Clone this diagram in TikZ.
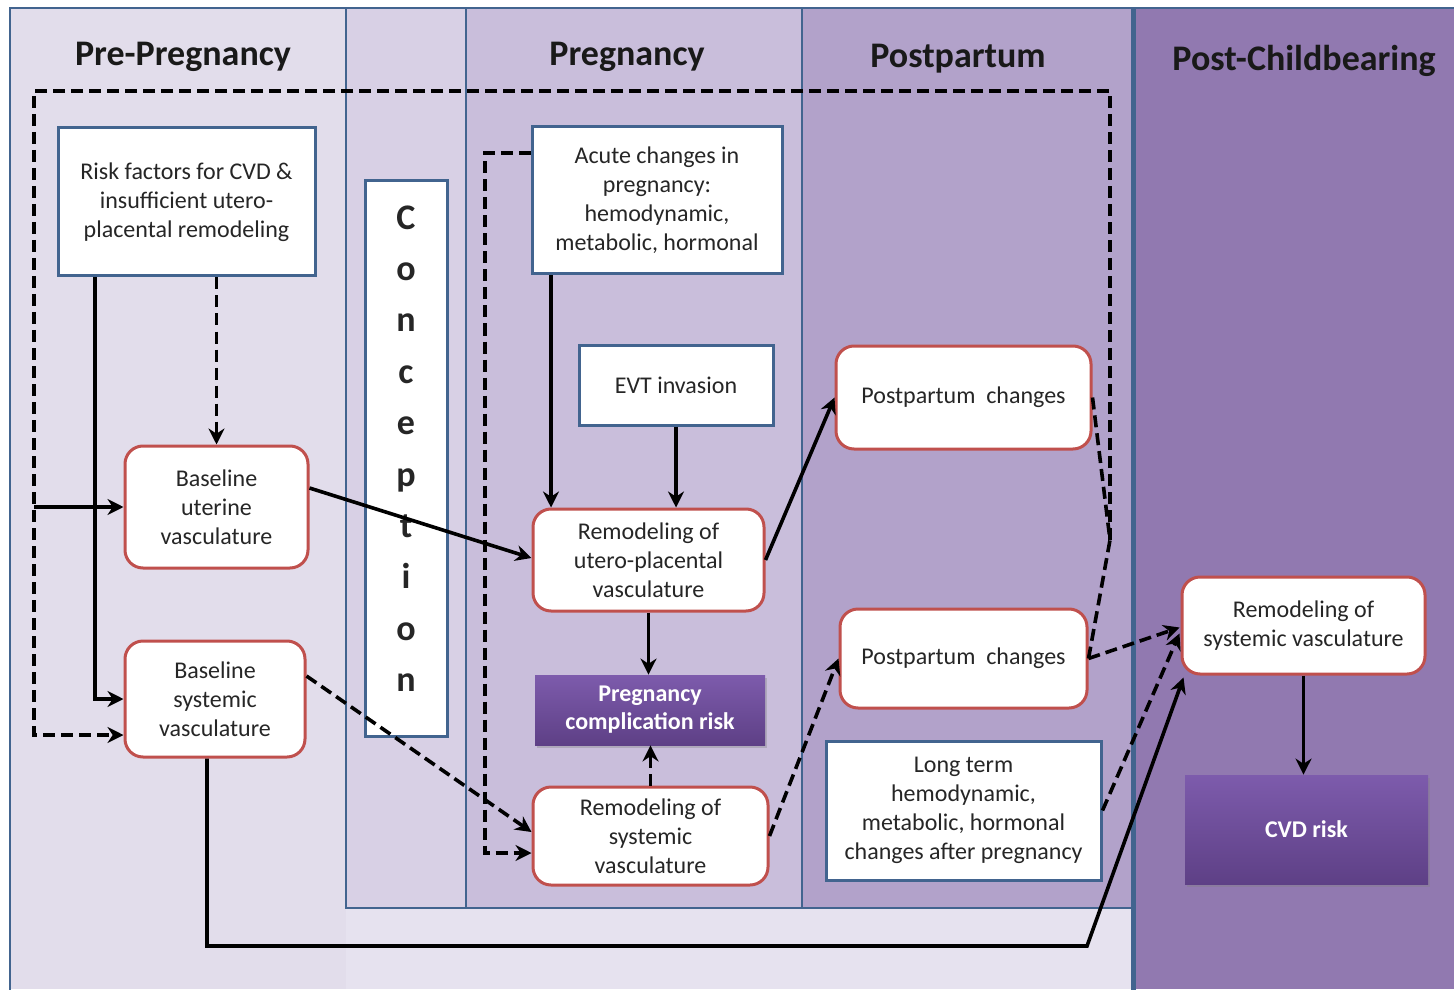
\documentclass[tikz,border=0pt]{standalone}
\usepackage{fontspec}
\setmainfont{Carlito}
\usetikzlibrary{arrows.meta,calc,shadows}
\definecolor{bgPre}{HTML}{E2DDEB}
\definecolor{bgBot}{HTML}{E6E2EF}
\definecolor{bgCon}{HTML}{D8D0E5}
\definecolor{bgPreg}{HTML}{C9BEDB}
\definecolor{bgPost}{HTML}{B2A2CA}
\definecolor{bgPC}{HTML}{9179B0}
\definecolor{bord}{HTML}{42648F}
\definecolor{redb}{HTML}{C0504D}
\definecolor{pTop}{HTML}{7D5BAC}
\definecolor{pBot}{HTML}{5E4086}
\definecolor{txt}{HTML}{262626}
\tikzset{
  panel/.style={draw=bord, line width=1.3pt},
  bluebox/.style={draw=bord, line width=1.5pt, fill=white, align=center, text=txt,
    font=\fontsize{12}{14.5}\selectfont, inner sep=2pt},
  redbox/.style={draw=redb, line width=1.5pt, fill=white, rounded corners=9pt, align=center, text=txt,
    font=\fontsize{12}{14.5}\selectfont, inner sep=2pt},
  purplebox/.style={top color=pTop, bottom color=pBot, draw=none, align=center, text=white,
    font=\bfseries\fontsize{12}{14}\selectfont, inner sep=2pt,
    drop shadow={opacity=0.35, shadow xshift=1pt, shadow yshift=-1.5pt}},
  header/.style={font=\bfseries\fontsize{18}{20}\selectfont, text=black!90},
  conn/.style={line width=1.8pt, -{Stealth[length=8pt,width=8pt]}},
  dconn/.style={conn, dash pattern=on 6pt off 3pt},
  dline/.style={line width=1.8pt, dash pattern=on 6pt off 3pt}
}
\begin{document}
\begin{tikzpicture}[x=0.5pt,y=-0.5pt]
\useasboundingbox (0,0) rectangle (1454,989);
% backgrounds
\fill[white] (0,0) rectangle (1454,989);
\fill[bgPre] (10,8) rectangle (1454,989);
\fill[bgBot] (346,908) rectangle (1133,989);
\fill[bgCon] (346,8) rectangle (466,908);
\fill[bgPreg] (466,8) rectangle (802,908);
\fill[bgPost] (802,8) rectangle (1133,908);
\fill[bgPC] (1133,8) rectangle (1454,989);
\draw[panel] (10,995) -- (10,8) -- (1454,8);
\draw[panel] (346,8) -- (346,908) -- (1133,908);
\draw[panel] (466,8) -- (466,908);
\draw[panel] (802,8) -- (802,908);
\draw[panel, line width=2.5pt] (1133,8) -- (1133,995);

% headers
\node[header] (h1) at (183,57) {Pre-Pregnancy};
\node[header] (h2) at (627,57) {Pregnancy};
\node[header] (h3) at (958,59) {Postpartum};
\node[header] (h4) at (1304,61) {Post-Childbearing};

% nodes
\node[bluebox, minimum width=128.5pt, minimum height=74pt] (risk) at (186.5,202)
  {Risk factors for CVD \&\\insufficient utero-\\placental remodeling};
\node[bluebox, minimum width=41pt, minimum height=277.5pt, text depth=10pt,
  font=\bfseries\fontsize{18}{25.7}\selectfont] (conc) at (406,458.5)
  {C\\o\\n\\c\\e\\p\\t\\i\\o\\n};
\node[redbox, minimum width=91.5pt, minimum height=61pt] (bu) at (216.5,507)
  {Baseline\\uterine\\vasculature};
\node[redbox, minimum width=90pt, minimum height=58pt] (bs) at (215,699)
  {Baseline\\systemic\\vasculature};
\node[bluebox, minimum width=125pt, minimum height=73.5pt] (acute) at (657,200.5)
  {Acute changes in\\pregnancy:\\hemodynamic,\\metabolic, hormonal};
\node[bluebox, minimum width=97pt, minimum height=40pt] (evt) at (676,385) {EVT invasion};
\node[redbox, minimum width=115.5pt, minimum height=51pt] (rup) at (648.5,560)
  {Remodeling of\\utero-placental\\vasculature};
\node[purplebox, minimum width=115pt, minimum height=35pt] (pcr) at (650,710)
  {Pregnancy\\complication risk};
\node[redbox, minimum width=117.5pt, minimum height=49pt] (rsp) at (650.5,836)
  {Remodeling of\\systemic\\vasculature};
\node[redbox, minimum width=127.5pt, minimum height=51.5pt] (pp1) at (963.5,397.5)
  {Postpartum\ \ changes};
\node[redbox, minimum width=123.5pt, minimum height=49.5pt] (pp2) at (963.5,658.5)
  {Postpartum\ \ changes};
\node[bluebox, minimum width=137.5pt, minimum height=69.5pt] (lt) at (963.5,810.5)
  {Long term\\hemodynamic,\\metabolic, hormonal\\changes after pregnancy};
\node[redbox, minimum width=121.5pt, minimum height=48.5pt] (rsr) at (1303.5,625.5)
  {Remodeling of\\systemic vasculature};
\node[purplebox, minimum width=121.5pt, minimum height=54.5pt] (cvd) at (1306.5,829.5) {CVD risk};

% helper coordinates
\coordinate (tl) at (34,91);
\coordinate (tr) at (1110,91);
\coordinate (j) at (1110,540);
\coordinate (x95) at (95,0);
\coordinate (x551) at (551,0);
\coordinate (c1) at (485,153);
\coordinate (c2) at (485,853);
\coordinate (b1) at (207,946);
\coordinate (b2) at (1087,946);

% connectors
\draw[dline] (pp1.east) -- (j) -- (pp2.east);
\draw[dconn] (j) -- (tr) -- (tl) |- ($(bs.west)+(0,36)$);
\draw[conn] (tl |- bu.west) -- (bu.west);
\draw[conn] (risk.south -| x95) |- (bs.west);
\draw[dconn] (risk.south -| bu.north) -- (bu.north);
\draw[conn] ($(bu.east)+(0,-19)$) -- ($(rup.west)+(0,-2)$);
\draw[dconn] ($(bs.east)+(0,-23)$) -- ($(rsp.west)+(0,-4)$);
\draw[dconn] ($(acute.west)+(0,-47.5)$) -- (c1) -- (c2) -- ($(rsp.west)+(0,17)$);
\draw[conn] (acute.south -| x551) -- (rup.north -| x551);
\draw[conn] (evt.south) -- (rup.north -| evt.south);
\draw[conn] (rup.south) -- (rup.south |- pcr.north);
\draw[dconn] (rsp.north) -- (rsp.north |- pcr.south);
\draw[conn] (rup.east) -- (pp1.west);
\draw[dconn] (rsp.east) -- (pp2.west);
\draw[dconn] (pp2.east) -- ($(rsr.west)+(-1,2)$);
\draw[dconn] (lt.east) -- ($(rsr.west)+(-1,8)$);
\draw[conn] (bs.south -| b1) -- (b1) -- (b2) -- ($(rsr.south west)+(3,2)$);
\draw[conn] (rsr.south) -- (rsr.south |- cvd.north);
\end{tikzpicture}
\end{document}
